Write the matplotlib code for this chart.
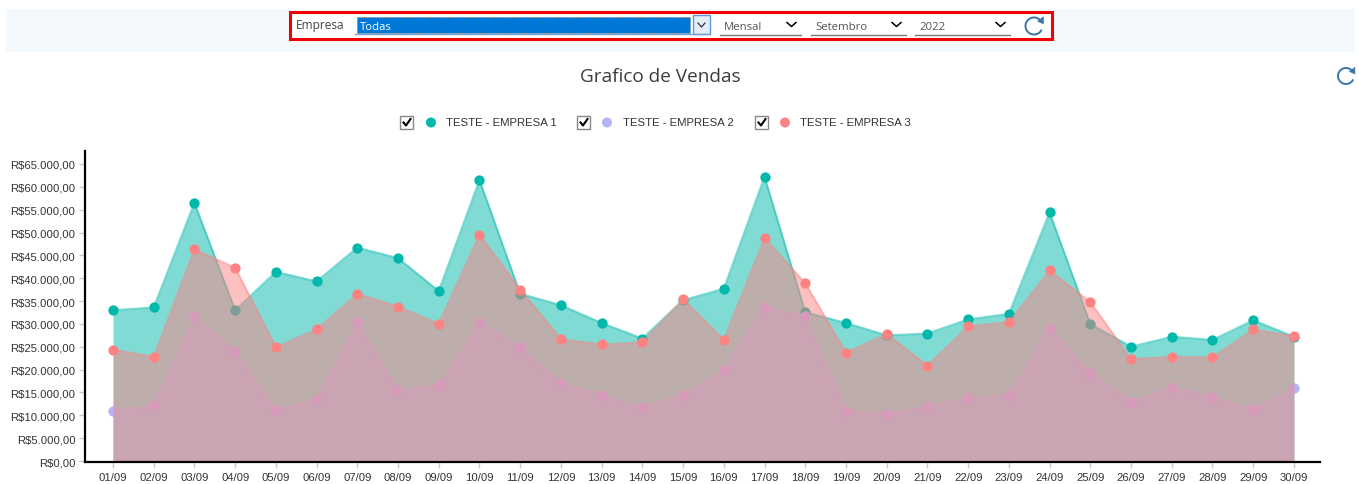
import matplotlib
matplotlib.use("Agg")
import matplotlib.pyplot as plt
from matplotlib.patches import Rectangle, Arc, Polygon, Circle
from matplotlib.ticker import FuncFormatter

W, H = 1359, 485
days = [f"{d:02d}/09" for d in range(1, 31)]
empresa1 = [33000, 33600, 56500, 33000, 41400, 39300, 46700, 44400, 37200, 61500,
            36600, 34100, 30200, 26800, 35200, 37700, 62200, 32600, 30200, 27500,
            27900, 31000, 32200, 54400, 30000, 25000, 27200, 26500, 30800, 27200]
empresa2 = [10900, 12200, 31700, 24000, 11200, 13600, 30400, 15500, 16700, 30400,
            25000, 17000, 14500, 11800, 14500, 19900, 33700, 31800, 11000, 10300,
            12000, 13800, 14500, 29200, 19300, 13000, 16300, 14000, 11400, 15900]
empresa3 = [24400, 22800, 46300, 42300, 24900, 28800, 36600, 33800, 30000, 49500,
            37500, 26700, 25500, 26000, 35400, 26500, 48800, 38900, 23700, 27800,
            20900, 29500, 30400, 41700, 34800, 22300, 22800, 22700, 28800, 27300]
names = ["TESTE - EMPRESA 1", "TESTE - EMPRESA 2", "TESTE - EMPRESA 3"]
colors = ["#01b8aa", "#b3b3f5", "#fd8383"]
y_ticks = list(range(0, 65001, 5000))

fig = plt.figure(figsize=(W / 100, H / 100), dpi=100, facecolor="white")

# Overlay in pixel coordinates for the surrounding interface
ui = fig.add_axes([0, 0, 1, 1], zorder=0)
ui.set_xlim(0, W)
ui.set_ylim(H, 0)
ui.axis("off")

# Chart axes
x0, x1, ytop, ybot = 85, 1320, 152, 463
ax = fig.add_axes([x0 / W, 1 - ybot / H, (x1 - x0) / W, (ybot - ytop) / H], zorder=1)
ax.patch.set_alpha(0)
xs = list(range(len(days)))
for i, (vals, c) in enumerate(zip([empresa1, empresa2, empresa3], colors)):
    z = 2 + 3 * i
    ax.fill_between(xs, vals, 0, color=c, alpha=0.5, lw=0, zorder=z)
    ax.plot(xs, vals, color=c, lw=1.5, alpha=0.5, zorder=z + 1)
    ax.plot(xs, vals, ls="none", marker="o", ms=7.4, mfc=c, mec="none", zorder=z + 2, clip_on=False)
ax.set_xlim(-0.6876, 29.64)
px_per_val = (462 - 165) / 65000
ax.set_ylim(-1 / px_per_val, (462 - ytop) / px_per_val)
ax.set_xticks(xs, days)
ax.set_yticks(y_ticks)
ax.yaxis.set_major_formatter(FuncFormatter(
    lambda v, _: "R$" + f"{int(v):,}".replace(",", ".") + ",00"))
ax.tick_params(axis="both", labelsize=8.1, length=4, width=1, color="#c8c8c8",
               labelcolor="#333333", pad=3)
for lab in ax.get_xticklabels() + ax.get_yticklabels():
    lab.set_family("Liberation Sans")
for s in ("top", "right"):
    ax.spines[s].set_visible(False)
for s in ("left", "bottom"):
    ax.spines[s].set_linewidth(1.6)
    ax.spines[s].set_color("black")
    ax.spines[s].set_zorder(20)

# Top panel
ui.add_patch(Rectangle((6, 10), 1349, 43, fc="#f3f8fc", ec="none"))
ui.add_patch(Rectangle((290, 13), 762, 26.5, fc="white", ec="#f00000", lw=2.2))
ui.text(296, 25, "Empresa", fontsize=8.6, family="Open Sans", color="#444444", va="center")
ui.add_patch(Rectangle((357, 18), 333, 16, fc="#0078d7", ec="#8a6d3b", lw=0.6, ls=":"))
ui.plot([355, 709], [35, 35], color="#7da2ce", lw=1)
ui.text(359.5, 27, "Todas", fontsize=8.2, family="Open Sans", color="white", va="center")
ui.add_patch(Rectangle((693, 16), 17, 18.5, fc="#e3eefa", ec="#5b9bd5", lw=1))
ui.plot([698, 701.5, 705], [24, 28, 24], color="#333333", lw=0.9)

def dropdown(left, right, label):
    ui.add_patch(Rectangle((left, 18), right - left, 17, fc="white", ec="none"))
    ui.plot([left, right], [35.5, 35.5], color="#777777", lw=1)
    ui.text(left + 4, 27, label, fontsize=8.2, family="Open Sans", color="#555555", va="center")
    ui.plot([right - 14, right - 9.5, right - 5], [23.5, 27.5, 23.5], color="black", lw=1.1)

for left, right, label in [(720, 801, "Mensal"), (811, 906, "Setembro"), (915, 1010, "2022")]:
    dropdown(left, right, label)

def refresh(cx, cy, r, lw):
    ui.add_patch(Arc((cx, cy), 2 * r, 2 * r, theta1=25, theta2=315, color="#3a75a8", lw=lw))
    ui.add_patch(Polygon([(cx + r * 0.35, cy - r * 0.55), (cx + r * 1.15, cy - r * 1.15),
                          (cx + r * 1.15, cy - r * 0.2)], fc="#3a75a8", ec="none"))

refresh(1034, 27, 8.5, 1.4)
refresh(1346, 77, 8, 1.4)

ui.text(660, 77.5, "Grafico de Vendas", fontsize=13.7, family="Open Sans",
        color="#3c3c3c", ha="center", va="center")

# Legend
for cb_x, dot_x, txt_x, name, c in zip([400, 577, 755], [431, 607, 785], [446, 623, 800], names, colors):
    ui.add_patch(Rectangle((cb_x, 117), 13, 13, fc="white", ec="#888888", lw=1))
    ui.plot([cb_x + 3.5, cb_x + 6, cb_x + 10.5], [123.5, 126.5, 120], color="black", lw=1.5)
    ui.add_patch(Circle((dot_x, 123.5), 5, fc=c, ec="none"))
    ui.text(txt_x, 123.5, name, fontsize=8.2, family="Liberation Sans", color="#333333", va="center")

fig.savefig("out.png", dpi=100)
